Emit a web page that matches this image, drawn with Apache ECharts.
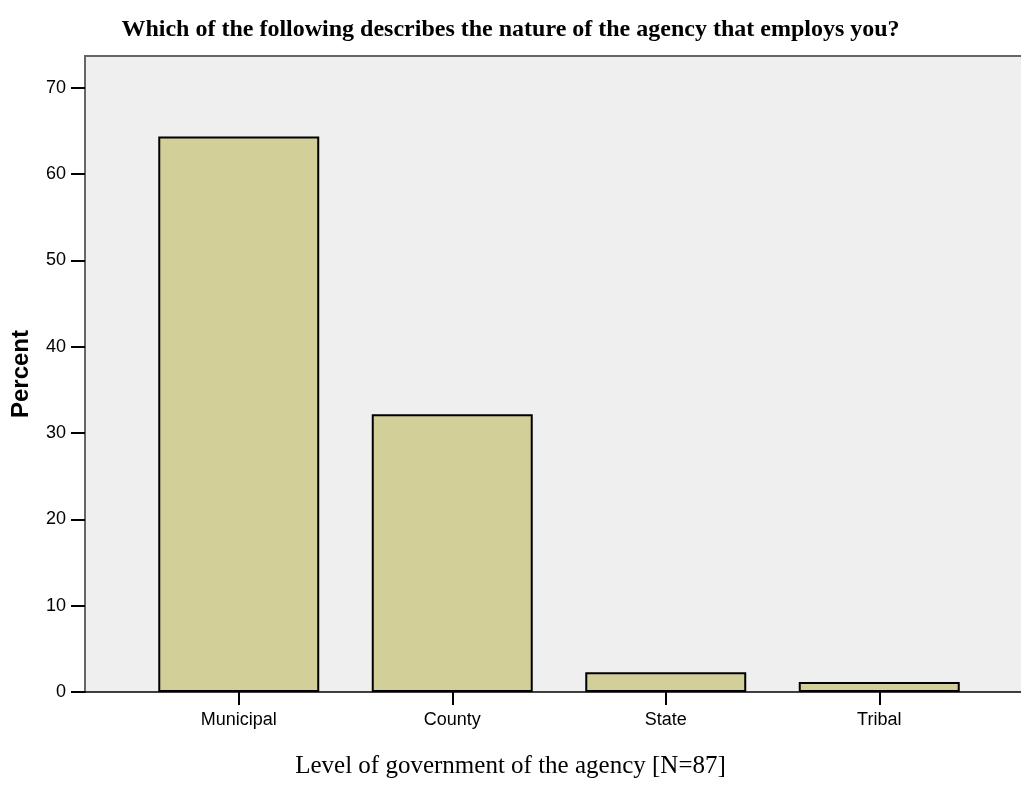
<!DOCTYPE html>
<html>
<head>
<meta charset="utf-8">
<script src="https://cdn.jsdelivr.net/npm/echarts@6/dist/echarts.min.js"></script>
<style>
  html, body { margin: 0; padding: 0; background: #ffffff; }
  #chart { width: 1021px; height: 792px; }
</style>
</head>
<body>
<div id="chart"></div>
<script>
// Survey: level of government of the employing agency (N = 87)
const categories = ['Municipal', 'County', 'State', 'Tribal'];
const percentValues = [64.37, 32.18, 2.30, 1.15];
const yTicks = [0, 10, 20, 30, 40, 50, 60, 70];

const chartTitle = 'Which of the following describes the nature of the agency that employs you?';
const xTitle = 'Level of government of the agency [N=87]';
const yTitle = 'Percent';

const frameLeft = 85;     // left edge of the shaded plot frame
const frameRight = 1021;  // right edge of the shaded plot frame
const gridLeft = 132;
const gridRight = 35;
const gridTop = 56;
const gridBottom = 100;
const yMax = 73.7;

const chart = echarts.init(document.getElementById('chart'), null, { renderer: 'canvas' });

const option = {
  animation: false,
  backgroundColor: '#ffffff',
  title: [
    {
      text: chartTitle,
      left: 'center',
      top: 13,
      textStyle: { fontFamily: 'Liberation Serif', fontWeight: 'bold', fontSize: 24, color: '#000' }
    },
    {
      text: xTitle,
      left: 'center',
      top: 749,
      textStyle: { fontFamily: 'Liberation Serif', fontWeight: 'normal', fontSize: 25, color: '#000' }
    }
  ],
  grid: { left: gridLeft, right: gridRight, top: gridTop, bottom: gridBottom, containLabel: false },
  xAxis: {
    type: 'category',
    data: categories,
    axisLine: { show: false },
    axisTick: { show: true, alignWithLabel: true, length: 13, lineStyle: { color: '#000', width: 2 } },
    axisLabel: { margin: 19, fontFamily: 'Liberation Sans', fontSize: 18, color: '#000' }
  },
  yAxis: {
    type: 'value',
    min: 0,
    max: yMax,
    interval: 10,
    offset: gridLeft - frameLeft,
    name: yTitle,
    nameLocation: 'middle',
    nameGap: 52,
    nameRotate: 90,
    nameTextStyle: { fontFamily: 'Liberation Sans', fontWeight: 'bold', fontSize: 24, color: '#000' },
    axisLine: { show: true, lineStyle: { color: '#666', width: 2 } },
    axisTick: { show: true, length: 14, customValues: yTicks, lineStyle: { color: '#000', width: 2 } },
    axisLabel: {
      margin: 19,
      customValues: yTicks,
      fontFamily: 'Liberation Sans',
      fontSize: 18,
      color: '#000'
    },
    splitLine: { show: false }
  },
  series: [
    {
      type: 'bar',
      data: percentValues,
      barWidth: '75.4%',
      itemStyle: { color: '#d3cf99', borderColor: '#000', borderWidth: 2 },
      z: 3
    }
  ]
};

chart.setOption(option);

// Shaded plot frame behind the bars, with its top edge and the baseline
const yZero = chart.convertToPixel({ yAxisIndex: 0 }, 0);
const yTop = chart.convertToPixel({ yAxisIndex: 0 }, yMax);
chart.setOption({
  graphic: [
    {
      type: 'rect',
      z: -10,
      shape: { x: frameLeft, y: yTop, width: frameRight - frameLeft, height: yZero - yTop },
      style: { fill: '#efefef' },
      silent: true
    },
    {
      type: 'line',
      z: 1,
      shape: { x1: frameLeft - 1, y1: yTop, x2: frameRight, y2: yTop },
      style: { stroke: '#666', lineWidth: 2 },
      silent: true
    },
    {
      type: 'line',
      z: 10,
      shape: { x1: frameLeft - 1, y1: yZero, x2: frameRight, y2: yZero },
      style: { stroke: '#000', lineWidth: 1.5 },
      silent: true
    }
  ]
});
</script>
</body>
</html>
